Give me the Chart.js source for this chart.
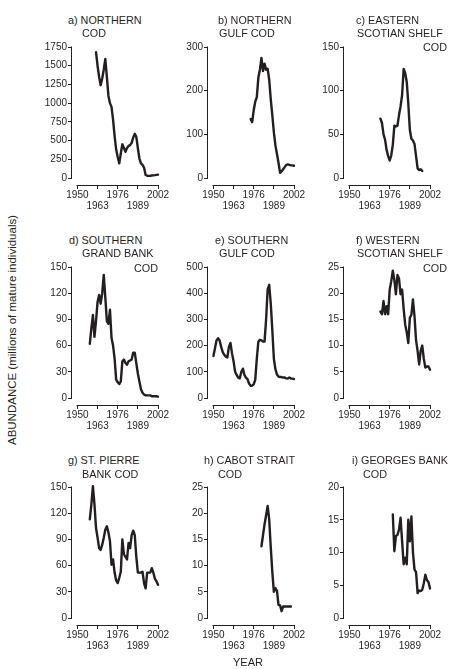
<!DOCTYPE html>
<html><head><meta charset="utf-8">
<script src="https://cdn.jsdelivr.net/npm/chart.js@4.4.1/dist/chart.umd.min.js"></script>
<style>
html,body{margin:0;padding:0;background:#fff;}
body{width:450px;height:669px;position:relative;overflow:hidden;font-family:"Liberation Sans",Arial,sans-serif;color:#231f20;}
canvas{position:absolute;}
.t{position:absolute;font-size:10.8px;line-height:13px;white-space:nowrap;}
.ylab{position:absolute;font-size:11.5px;line-height:13px;white-space:nowrap;transform:translate(-50%,-50%) rotate(-90deg);}
.xlab{position:absolute;font-size:11px;line-height:13px;white-space:nowrap;transform:translate(-50%,-50%);}
</style></head><body>
<script>
// ---- data ----
const yearTicks = [1950, 1963, 1976, 1989, 2002];

const northernCodStart = 1962;
const northernCod = [1680,1500,1350,1240,1330,1450,1590,1350,1100,1000,950,780,560,380,280,195,330,450,400,350,400,430,440,470,540,590,550,400,260,195,175,140,40,30,28,30,33,35,38,42,45];
const northernCodTicks = [0,250,500,750,1000,1250,1500,1750];

const northernGulfCodStart = 1974;
const northernGulfCod = [135,128,155,175,185,230,248,275,245,262,248,250,225,180,144,105,75,55,35,12,15,20,25,30,31,30,29,29,28];
const northernGulfCodTicks = [0,100,200,300];

const easternScotianCodStart = 1970;
const easternScotianCod = [68,63,50,44,32,25,20,26,38,60,59,60,72,82,95,125,120,110,85,55,45,43,39,25,11,9,10,8];
const easternScotianCodTicks = [0,50,100,150];

const southernGrandBankCodStart = 1958;
const southernGrandBankCod = [62,80,95,70,88,110,118,108,120,141,115,88,85,101,69,60,45,21,18,16,19,42,44,40,38,42,43,44,52,52,40,28,19,10,6,4,3,3,3,3,2,2,2,2,1.5];
const southernGrandBankCodTicks = [0,30,60,90,120,150];

const southernGulfCodStart = 1950;
const southernGulfCod = [160,190,220,228,220,195,175,165,158,155,195,210,170,140,100,88,78,75,100,112,88,78,72,55,47,47,52,70,150,215,222,220,215,215,300,415,432,360,260,150,110,90,82,80,80,78,78,75,74,78,74,74,72];
const southernGulfCodTicks = [0,100,200,300,400,500];

const westernScotianCodStart = 1970;
const westernScotianCod = [16.5,16,18.5,16,17.5,16,20.7,22.3,24.3,22.5,19.8,23.5,22.8,19.8,20.7,17,14,12.5,10.5,15.3,15.9,18.8,15.6,11,9,6.4,9,10,7.5,5.8,6,6,5.4];
const westernScotianCodTicks = [0,5,10,15,20,25];

const stPierreBankCodStart = 1958;
const stPierreBankCod = [113,130,151,130,103,92,80,78,84,92,101,105,98,88,61,67,52,43,40,46,53,90,73,70,67,86,80,95,100,95,70,52,52,52,53,40,34,52,52,52,57,52,45,42,38];
const stPierreBankCodTicks = [0,30,60,90,120,150];

const cabotStraitCodStart = 1981;
const cabotStraitCod = [13.7,15.8,17.9,19.6,21.4,18.8,13.5,8.8,5,5.7,5.2,2.5,2.4,1.3,2.2,2.2,2.2,2.2,2.2,2.2];
const cabotStraitCodTicks = [0,5,10,15,20,25];

const georgesBankCodStart = 1978;
const georgesBankCod = [15.8,10.2,12.5,12.7,13.5,15.3,11.7,8.2,9.2,8.2,15,11.7,15.5,10,7.4,7,3.8,4.2,4.1,4.3,5.3,6.6,5.8,5.5,4.5];
const georgesBankCodTicks = [0,5,10,15,20];

const titleA = ["a) NORTHERN", "COD"];
const titleB = ["b) NORTHERN", "GULF COD"];
const titleC = ["c) EASTERN", "SCOTIAN SHELF", "COD"];
const titleD = ["d) SOUTHERN", "GRAND BANK", "COD"];
const titleE = ["e) SOUTHERN", "GULF COD"];
const titleF = ["f) WESTERN", "SCOTIAN SHELF", "COD"];
const titleG = ["g) ST. PIERRE", "BANK COD"];
const titleH = ["h) CABOT STRAIT", "COD"];
const titleI = ["i) GEORGES BANK", "COD"];

const yAxisTitle = "ABUNDANCE (millions of mature individuals)";
const xAxisTitle = "YEAR";

// ---- layout ----
const INK = '#231f20';
const FONT = '"Liberation Sans", Arial, sans-serif';
const colLeft = [72, 208, 344];
const rowTop = [47, 267, 487];
const areaW = 86, areaH = 138, zeroGap = 7;
const padL = 50, padT = 12, padR = 16, padB = 32;

const panels = [
  {start: northernCodStart, values: northernCod, ticks: northernCodTicks, col:0, row:0, title: titleA},
  {start: northernGulfCodStart, values: northernGulfCod, ticks: northernGulfCodTicks, col:1, row:0, title: titleB},
  {start: easternScotianCodStart, values: easternScotianCod, ticks: easternScotianCodTicks, col:2, row:0, title: titleC},
  {start: southernGrandBankCodStart, values: southernGrandBankCod, ticks: southernGrandBankCodTicks, col:0, row:1, title: titleD},
  {start: southernGulfCodStart, values: southernGulfCod, ticks: southernGulfCodTicks, col:1, row:1, title: titleE},
  {start: westernScotianCodStart, values: westernScotianCod, ticks: westernScotianCodTicks, col:2, row:1, title: titleF},
  {start: stPierreBankCodStart, values: stPierreBankCod, ticks: stPierreBankCodTicks, col:0, row:2, title: titleG},
  {start: cabotStraitCodStart, values: cabotStraitCod, ticks: cabotStraitCodTicks, col:1, row:2, title: titleH},
  {start: georgesBankCodStart, values: georgesBankCod, ticks: georgesBankCodTicks, col:2, row:2, title: titleI},
];

// title line placement: [left x or null, right x or null, center y]
const titlePos = [
  [[68,null,20],[82,null,33]],
  [[218,null,20],[219,null,33]],
  [[356,null,20],[357,null,33],[null,447,47]],
  [[69,null,240],[82,null,253],[null,158,268]],
  [[215,null,240],[219,null,253]],
  [[356,null,240],[357,null,253],[null,447,268]],
  [[68,null,460],[82,null,474]],
  [[204,null,460],[218,null,474]],
  [[352,null,460],[363,null,474]],
];

const axisLines = {
  id: 'axisLines',
  afterDraw(chart) {
    const {ctx, chartArea, scales: {x, y}} = chart;
    ctx.save();
    ctx.strokeStyle = INK;
    ctx.lineWidth = 1;
    ctx.beginPath();
    const lx = Math.round(chartArea.left) - 0.5;
    ctx.moveTo(lx, Math.round(y.getPixelForValue(y.max)) - 0.5);
    ctx.lineTo(lx, Math.round(y.getPixelForValue(0)) + 0.5);
    const by = Math.round(chartArea.bottom) + 0.5;
    ctx.moveTo(Math.round(x.getPixelForValue(yearTicks[0])) - 0.5, by);
    ctx.lineTo(Math.round(x.getPixelForValue(yearTicks[yearTicks.length - 1])) + 0.5, by);
    ctx.stroke();
    ctx.restore();
  }
};

panels.forEach((p, k) => {
  const cv = document.createElement('canvas');
  cv.width = padL + areaW + padR;
  cv.height = padT + areaH + padB;
  cv.style.left = (colLeft[p.col] - padL) + 'px';
  cv.style.top = (rowTop[p.row] - padT) + 'px';
  document.body.appendChild(cv);
  const ymax = p.ticks[p.ticks.length - 1];
  const ymin = -ymax * zeroGap / (areaH - zeroGap);
  new Chart(cv, {
    type: 'line',
    data: {
      datasets: [{
        data: p.values.map((v, i) => ({x: p.start + i, y: v})),
        borderColor: INK,
        borderWidth: 2.4,
        pointRadius: 0,
        tension: 0,
        clip: false,
        borderJoinStyle: 'round',
        borderCapStyle: 'round'
      }]
    },
    options: {
      responsive: false,
      animation: false,
      devicePixelRatio: 1,
      layout: {padding: {top: padT, right: padR, left: 0, bottom: 0}},
      plugins: {legend: {display: false}, tooltip: {enabled: false}, title: {display: false}},
      scales: {
        x: {
          type: 'linear', min: 1946.5, max: 2002,
          afterBuildTicks: s => { s.ticks = yearTicks.map(v => ({value: v})); },
          afterFit: s => { s.height = padB; },
          grid: {drawOnChartArea: false, drawTicks: true, tickLength: 4, color: INK, lineWidth: 1},
          border: {display: false},
          ticks: {
            autoSkip: false, maxRotation: 0, minRotation: 0, padding: 0,
            color: INK, font: {size: 10, family: FONT, lineHeight: 1.15},
            callback: (v, i) => (i % 2 ? ['', String(v)] : String(v))
          }
        },
        y: {
          type: 'linear', min: ymin, max: ymax,
          afterBuildTicks: s => { s.ticks = p.ticks.map(v => ({value: v})); },
          afterFit: s => { s.width = padL; },
          grid: {drawOnChartArea: false, drawTicks: true, tickLength: 4, color: INK, lineWidth: 1},
          border: {display: false},
          ticks: {padding: 1, color: INK, font: {size: 10, family: FONT}, callback: v => String(v)}
        }
      }
    },
    plugins: [axisLines]
  });
  // titles
  p.title.forEach((line, j) => {
    const pos = titlePos[k][j];
    const d = document.createElement('div');
    d.className = 't';
    d.textContent = line;
    d.style.top = (pos[2] - 6.5) + 'px';
    if (pos[0] !== null) d.style.left = pos[0] + 'px';
    else d.style.right = (450 - pos[1]) + 'px';
    document.body.appendChild(d);
  });
});

const yl = document.createElement('div');
yl.className = 'ylab';
yl.textContent = yAxisTitle;
yl.style.left = '12px';
yl.style.top = '330px';
document.body.appendChild(yl);

const xl = document.createElement('div');
xl.className = 'xlab';
xl.textContent = xAxisTitle;
xl.style.left = '248px';
xl.style.top = '662px';
document.body.appendChild(xl);
</script>
</body></html>
